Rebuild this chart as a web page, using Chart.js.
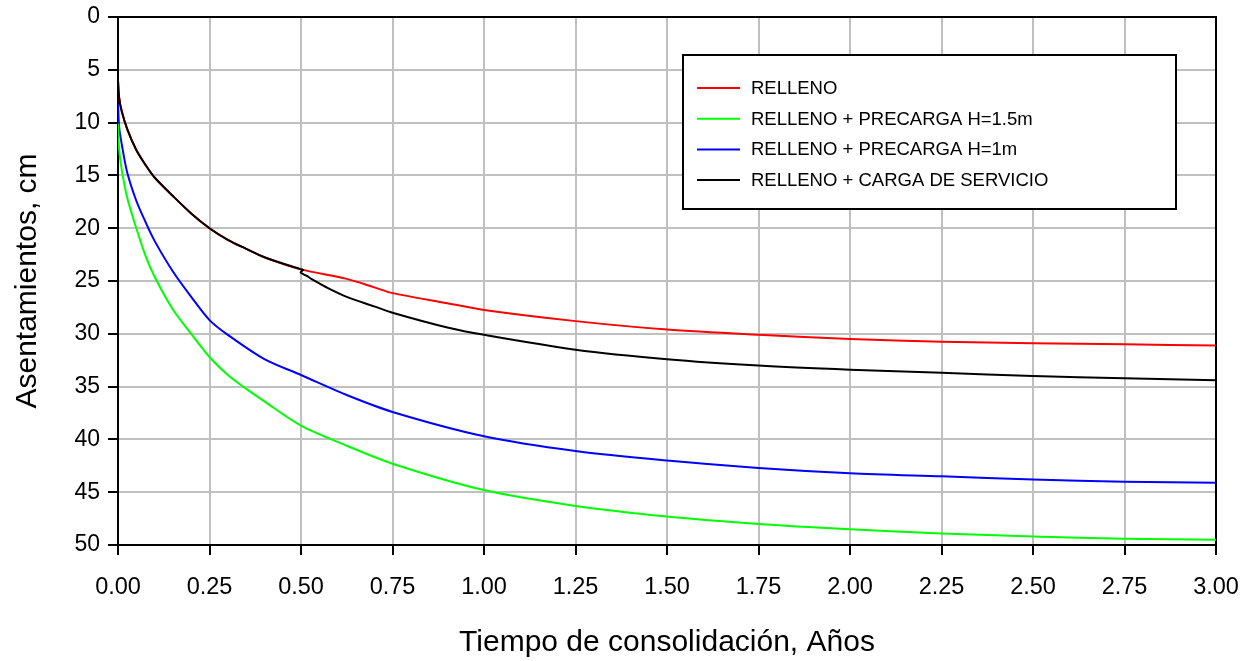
<!DOCTYPE html>
<html>
<head>
<meta charset="utf-8">
<title>Asentamientos vs tiempo</title>
<script src="https://cdn.jsdelivr.net/npm/chart.js@4.4.1/dist/chart.umd.min.js"></script>
<style>
  html, body { margin: 0; padding: 0; background: #fff; }
  #wrap { width: 1250px; height: 661px; }
</style>
</head>
<body>
<div id="wrap"><canvas id="curvas"></canvas></div>
<script>
// tiempo (años) y asentamiento (cm) de cada curva
const tRelleno = [0, 0.003, 0.01, 0.025, 0.05, 0.075, 0.1, 0.15, 0.2, 0.25, 0.3, 0.35, 0.4, 0.5, 0.625, 0.7, 0.75, 0.9, 1.0, 1.25, 1.5, 1.75, 2.0, 2.25, 2.5, 2.75, 3.0];
const sRelleno = [6.0, 7.6, 8.9, 10.6, 12.6, 14.0, 15.2, 16.95, 18.6, 20.0, 21.1, 21.95, 22.75, 23.9, 24.8, 25.6, 26.15, 27.1, 27.75, 28.8, 29.6, 30.1, 30.5, 30.75, 30.9, 31.0, 31.1];

const tPrecarga15 = [0, 0.003, 0.01, 0.025, 0.05, 0.075, 0.1, 0.15, 0.2, 0.25, 0.3, 0.342, 0.4, 0.5, 0.625, 0.75, 1.0, 1.25, 1.5, 1.75, 2.0, 2.25, 2.5, 2.75, 3.0];
const sPrecarga15 = [10.1, 12.5, 14.4, 17.1, 20.0, 22.6, 24.6, 27.7, 30.0, 32.2, 33.9, 35.0, 36.4, 38.7, 40.6, 42.3, 44.8, 46.3, 47.3, 48.0, 48.5, 48.9, 49.2, 49.4, 49.5];

const tPrecarga1 = [0, 0.003, 0.01, 0.025, 0.05, 0.075, 0.1, 0.15, 0.2, 0.25, 0.3, 0.4, 0.5, 0.625, 0.75, 1.0, 1.25, 1.5, 1.75, 2.0, 2.25, 2.5, 2.75, 3.0];
const sPrecarga1 = [8.2, 10.4, 12.0, 14.7, 17.4, 19.4, 21.2, 24.1, 26.5, 28.7, 30.1, 32.4, 33.9, 35.8, 37.4, 39.7, 41.1, 42.0, 42.7, 43.2, 43.5, 43.8, 44.0, 44.1];

const tServicio = [0, 0.003, 0.01, 0.025, 0.05, 0.075, 0.1, 0.15, 0.2, 0.25, 0.3, 0.35, 0.4, 0.5, 0.506, 0.499, 0.515, 0.533, 0.575, 0.625, 0.7, 0.75, 0.9, 1.0, 1.25, 1.5, 1.75, 2.0, 2.25, 2.5, 2.75, 3.0];
const sServicio = [6.0, 7.6, 8.9, 10.6, 12.6, 14.0, 15.2, 16.95, 18.6, 20.0, 21.1, 21.95, 22.75, 23.9, 23.95, 24.2, 24.5, 24.9, 25.7, 26.5, 27.4, 28.0, 29.4, 30.1, 31.5, 32.4, 33.0, 33.4, 33.7, 34.0, 34.2, 34.4];

const nombres = ['RELLENO', 'RELLENO + PRECARGA H=1.5m', 'RELLENO + PRECARGA H=1m', 'RELLENO + CARGA DE SERVICIO'];
const colores = ['#ff0000', '#00ff00', '#0000ff', '#000000'];
const yTicks = [0, 5, 10, 15, 20, 25, 30, 35, 40, 45, 50];

const FUENTE = "'Liberation Sans', Arial, sans-serif";

function puntos(t, s){
    return t.map((x, i) => ({x: x, y: s[i]}));
}

// recuadro de leyenda sobre el area de trazado
const leyenda = {
    id: 'leyenda',
    afterDatasetsDraw(chart){
        const ctx = chart.ctx;
        const a = chart.chartArea;
        const x0 = a.left + 565, y0 = a.top + 38, w = 493, h = 154;
        ctx.save();
        ctx.fillStyle = '#fff';
        ctx.fillRect(x0, y0, w, h);
        ctx.strokeStyle = '#000';
        ctx.lineWidth = 2;
        ctx.strokeRect(x0, y0, w, h);
        ctx.font = '18.5px ' + FUENTE;
        ctx.textBaseline = 'middle';
        chart.data.datasets.forEach((ds, i) => {
            const y = y0 + 33 + i * 30.7;
            ctx.strokeStyle = ds.borderColor;
            ctx.lineWidth = 2;
            ctx.beginPath();
            ctx.moveTo(x0 + 14, y);
            ctx.lineTo(x0 + 57, y);
            ctx.stroke();
            ctx.fillStyle = '#000';
            ctx.fillText(ds.label, x0 + 68, y + 1);
        });
        ctx.restore();
    }
};

// marco negro del area de trazado
const marco = {
    id: 'marco',
    beforeDatasetsDraw(chart){
        const ctx = chart.ctx;
        const a = chart.chartArea;
        ctx.save();
        ctx.strokeStyle = '#000';
        ctx.lineWidth = 2;
        ctx.strokeRect(a.left, a.top, a.right - a.left, a.bottom - a.top);
        ctx.restore();
    }
};

const series = [
    [tRelleno, sRelleno],
    [tPrecarga15, sPrecarga15],
    [tPrecarga1, sPrecarga1],
    [tServicio, sServicio]
];

const datasets = series.map((sr, i) => ({
    label: nombres[i],
    data: puntos(sr[0], sr[1]),
    borderColor: colores[i],
    backgroundColor: colores[i],
    borderWidth: 2,
    pointRadius: 0,
    tension: 0.3,
    fill: false,
    order: i === 3 ? 0 : 1
}));

Chart.defaults.font.family = FUENTE;
Chart.defaults.color = '#000';

new Chart(document.getElementById('curvas').getContext('2d'), {
    type: 'line',
    data: {datasets: datasets},
    plugins: [marco, leyenda],
    options: {
        responsive: true,
        maintainAspectRatio: false,
        animation: false,
        devicePixelRatio: 1,
        layout: {padding: {top: 17, right: 34, left: 0, bottom: 0}},
        plugins: {
            legend: {display: false},
            tooltip: {enabled: false}
        },
        scales: {
            x: {
                type: 'linear',
                min: 0,
                max: 3,
                afterFit: s => {
                    s.height = 116;
                    s.paddingLeft = 0;
                    s.paddingRight = 0;
                },
                ticks: {
                    stepSize: 0.25,
                    padding: 18,
                    maxRotation: 0,
                    font: {size: 23.5},
                    callback: v => v.toFixed(2)
                },
                grid: {color: '#c0c0c0', lineWidth: 2, tickColor: '#000', tickWidth: 2, tickLength: 10},
                border: {color: '#000', width: 2},
                title: {
                    display: true,
                    text: 'Tiempo de consolidación, Años',
                    font: {size: 30},
                    padding: {top: 0, bottom: 0}
                }
            },
            y: {
                type: 'linear',
                reverse: true,
                min: 0,
                max: 50,
                afterFit: s => {
                    s.width = 118;
                    s.paddingTop = 0;
                    s.paddingBottom = 0;
                },
                afterBuildTicks: s => { s.ticks = yTicks.map(v => ({value: v})); },
                ticks: {
                    padding: 8,
                    font: {size: 23}
                },
                grid: {color: '#c0c0c0', lineWidth: 2, tickColor: '#000', tickWidth: 2, tickLength: 10},
                border: {color: '#000', width: 2},
                title: {
                    display: true,
                    text: 'Asentamientos, cm',
                    font: {size: 30},
                    padding: {top: 10, bottom: 0}
                }
            }
        }
    }
});
</script>
</body>
</html>
